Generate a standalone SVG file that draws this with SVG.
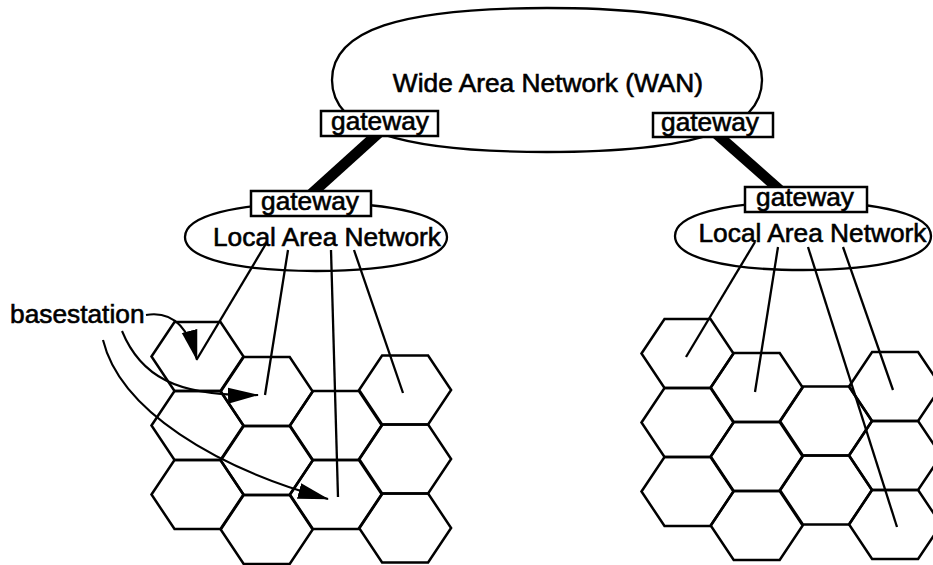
<svg xmlns="http://www.w3.org/2000/svg" width="933" height="565" viewBox="0 0 933 565">
<style>
  .shape{fill:#fff;stroke:#000;stroke-width:2.3}
  .box{fill:#fff;stroke:#000;stroke-width:2.5}
  .thick{stroke:#000;stroke-width:10.5;fill:none}
  .spoke{stroke:#000;stroke-width:2.3;fill:none}
  .arc{stroke:#000;stroke-width:2.1;fill:none}
  text{font-family:"Liberation Sans",Arial,Helvetica,sans-serif;font-size:26.3px;fill:#000;stroke:#000;stroke-width:0.6}
  .mid{text-anchor:middle}
</style>
<defs>
  <path id="hex" d="M-46,0 L-23,-34.5 L23,-34.5 L46,0 L23,34.5 L-23,34.5 Z" fill="none" stroke="#000" stroke-width="2.5"/>
  <marker id="ah" markerUnits="userSpaceOnUse" markerWidth="31" markerHeight="17" viewBox="0 0 31 16" refX="30" refY="8" orient="auto">
    <path d="M0,0 L31,8 L0,16 Z" fill="#000"/>
  </marker>
</defs>
<rect width="933" height="565" fill="#fff"/>

<g id="wan">
  <path class="shape" d="M332,80 C332,30.3 399,8 547,8 C695,8 762,30.3 762,80 C762,129.7 695,152 547,152 C399,152 332,129.7 332,80 Z"/>
  <text class="mid" x="548" y="92">Wide Area Network (WAN)</text>
</g>

<g id="lan-left">
  <path class="shape" d="M185,237 C185,215.9 234.8,203 316,203 C397.2,203 447,215.9 447,237 C447,258.1 397.2,271 316,271 C234.8,271 185,258.1 185,237 Z"/>
  <text class="mid" x="327" y="246">Local Area Network</text>
</g>

<g id="lan-right">
  <path class="shape" d="M675,236 C675,214.9 723.6,202 803,202 C882.4,202 931,214.9 931,236 C931,257.1 882.4,270 803,270 C723.6,270 675,257.1 675,236 Z"/>
  <text class="mid" x="812.5" y="242">Local Area Network</text>
</g>

<g id="cells-left">
  <use href="#hex" x="197.5" y="356.5"/>
  <use href="#hex" x="197.5" y="425.5"/>
  <use href="#hex" x="197.5" y="494.5"/>
  <use href="#hex" x="266.7" y="391.5"/>
  <use href="#hex" x="266.7" y="460.5"/>
  <use href="#hex" x="266.7" y="529.5"/>
  <use href="#hex" x="335.9" y="425.5"/>
  <use href="#hex" x="335.9" y="494.5"/>
  <use href="#hex" x="405.1" y="390"/>
  <use href="#hex" x="405.1" y="459"/>
  <use href="#hex" x="405.1" y="528"/>
</g>

<g id="cells-right">
  <use href="#hex" x="687.5" y="353.5"/>
  <use href="#hex" x="687.5" y="422.5"/>
  <use href="#hex" x="687.5" y="491.5"/>
  <use href="#hex" x="756.7" y="387.5"/>
  <use href="#hex" x="756.7" y="456.5"/>
  <use href="#hex" x="756.7" y="525.5"/>
  <use href="#hex" x="825.9" y="421"/>
  <use href="#hex" x="825.9" y="490"/>
  <use href="#hex" x="895.1" y="386.5"/>
  <use href="#hex" x="895.1" y="455.5"/>
  <use href="#hex" x="895.1" y="524.5"/>
</g>

<g id="connectors">
  <line class="thick" x1="382" y1="130" x2="309" y2="196"/>
  <line class="thick" x1="712" y1="130" x2="782" y2="192"/>
  <line class="spoke" x1="267" y1="242" x2="197" y2="359"/>
  <line class="spoke" x1="288" y1="250" x2="265" y2="395"/>
  <line class="spoke" x1="331" y1="250" x2="338" y2="497"/>
  <line class="spoke" x1="354" y1="250" x2="403" y2="393"/>
  <line class="spoke" x1="755" y1="242" x2="686" y2="357"/>
  <line class="spoke" x1="778" y1="247" x2="755" y2="392"/>
  <line class="spoke" x1="808" y1="247" x2="897" y2="527"/>
  <line class="spoke" x1="843" y1="247" x2="893" y2="390"/>
  <path class="arc" marker-end="url(#ah)" d="M146,315 C170,311 188,325 197,360"/>
  <path class="arc" marker-end="url(#ah)" d="M122,331 C140,375 175,397 258,395"/>
  <path class="arc" marker-end="url(#ah)" d="M103,340 C120,410 215,468 328,499"/>
</g>

<g id="gw-wan-left">
  <rect class="box" x="321" y="111" width="117" height="25"/>
  <text class="mid" x="380" y="130">gateway</text>
</g>
<g id="gw-wan-right">
  <rect class="box" x="653" y="113" width="120" height="24"/>
  <text class="mid" x="710" y="131">gateway</text>
</g>
<g id="gw-lan-left">
  <rect class="box" x="251" y="191" width="120" height="25"/>
  <text class="mid" x="310" y="210">gateway</text>
</g>
<g id="gw-lan-right">
  <rect class="box" x="745" y="187" width="122" height="25"/>
  <text class="mid" x="805" y="206">gateway</text>
</g>

<g id="label-basestation">
  <text x="10" y="323">basestation</text>
</g>
</svg>
